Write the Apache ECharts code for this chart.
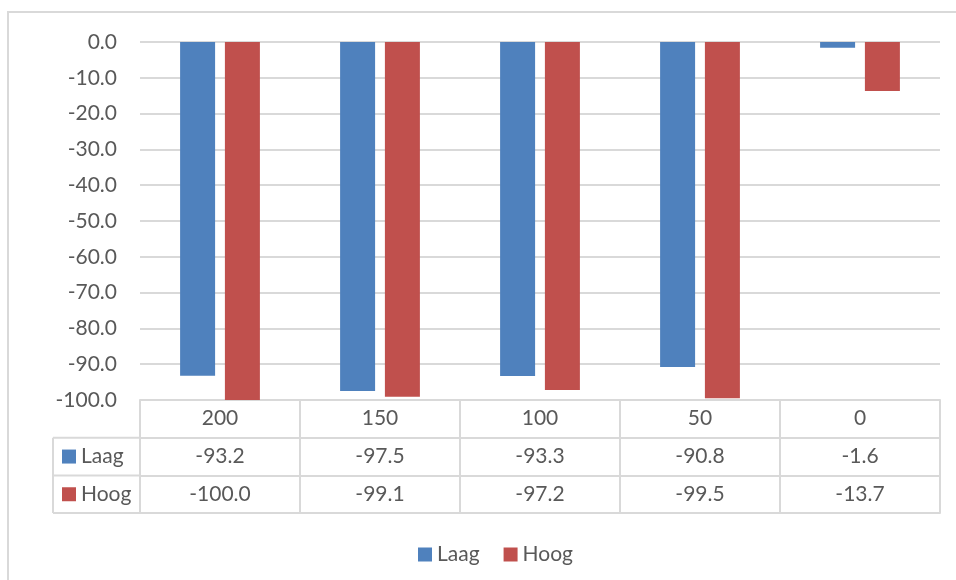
<!DOCTYPE html>
<html>
<head>
<meta charset="utf-8">
<script src="https://cdn.jsdelivr.net/npm/echarts@6/dist/echarts.min.js"></script>
<style>html,body{margin:0;padding:0;background:#fff}#c{width:956px;height:580px}</style>
</head>
<body>
<div id="c"></div>
<script>
var categories = ['200', '150', '100', '50', '0'];
var seriesNames = ['Laag', 'Hoog'];
var laag = [-93.2, -97.5, -93.3, -90.8, -1.6];
var hoog = [-100.0, -99.1, -97.2, -99.5, -13.7];
var yMin = -100, yMax = 0, yStep = 10;

var BLUE = '#4F81BD', RED = '#C0504D', TXT = '#595959', GRID = '#D9D9D9';
var FONT = 'Lato';
var FS = 21;
var rowVals = [laag, hoog];
var colors = [BLUE, RED];

var chart = echarts.init(document.getElementById('c'));
var gridLeft = 140, gridRight = 16, gridTop = 42, gridBottom = 180;
var rowH = 37.7;

function tableAxis(i) {
  return {
    type: 'category', gridIndex: 0, position: 'bottom', data: categories,
    offset: rowH * (i + 1),
    axisLine: { show: true, onZero: false, lineStyle: { color: GRID, width: 2 } },
    axisTick: { show: false },
    axisLabel: {
      show: i < 2, interval: 0, margin: 8, color: TXT, fontFamily: FONT, fontSize: FS,
      formatter: function (v, idx) { return i < 2 ? rowVals[i][idx].toFixed(1) : ''; }
    },
    splitLine: { show: false }
  };
}

var graphics = [
  { type: 'rect', shape: { x: 8, y: 12, width: 1000, height: 1000 }, style: { fill: 'none', stroke: GRID, lineWidth: 2 }, silent: true }
];
var tableTop = 580 - gridBottom;
for (var r = 1; r <= 3; r++) {
  var yy = tableTop + rowH * r;
  graphics.push({ type: 'line', shape: { x1: 53, y1: yy, x2: gridLeft, y2: yy }, style: { stroke: GRID, lineWidth: 2 } });
}
graphics.push({ type: 'line', shape: { x1: 53, y1: tableTop + rowH, x2: 53, y2: tableTop + rowH * 3 }, style: { stroke: GRID, lineWidth: 2 } });
seriesNames.forEach(function (n, i) {
  var cy = tableTop + rowH * (i + 1.5);
  graphics.push({ type: 'rect', shape: { x: 62, y: cy - 7, width: 14, height: 14 }, style: { fill: colors[i] } });
  graphics.push({ type: 'text', x: 81, y: cy, style: { text: n, fill: TXT, font: FS + 'px ' + FONT, textVerticalAlign: 'middle', verticalAlign: 'middle' } });
});

chart.setOption({
  animation: false,
  backgroundColor: '#fff',
  textStyle: { fontFamily: FONT },
  grid: { left: gridLeft, right: gridRight, top: gridTop, bottom: gridBottom, containLabel: false },
  legend: {
    data: seriesNames, left: 413, top: 539, icon: 'rect', itemWidth: 14, itemHeight: 14, itemGap: 24,
    textStyle: { color: TXT, fontFamily: FONT, fontSize: FS }
  },
  xAxis: [
    {
      type: 'category', gridIndex: 0, position: 'bottom', data: categories,
      axisLine: { show: true, onZero: false, lineStyle: { color: GRID, width: 2 } },
      axisTick: { show: true, interval: 0, length: rowH * 3, lineStyle: { color: GRID, width: 2 } },
      axisLabel: { interval: 0, margin: 8, color: TXT, fontFamily: FONT, fontSize: FS },
      splitLine: { show: false }
    },
    tableAxis(0), tableAxis(1), tableAxis(2)
  ],
  yAxis: {
    type: 'value', min: yMin, max: yMax, interval: yStep,
    axisLine: { show: false }, axisTick: { show: false },
    axisLabel: { margin: 23, color: TXT, fontFamily: FONT, fontSize: FS, formatter: function (v) { return v.toFixed(1); } },
    splitLine: { lineStyle: { color: GRID, width: 2 } }
  },
  series: [
    { name: seriesNames[0], type: 'bar', data: laag, barWidth: 35, barGap: '28%', itemStyle: { color: BLUE } },
    { name: seriesNames[1], type: 'bar', data: hoog, barWidth: 35, barGap: '28%', itemStyle: { color: RED } }
  ],
  graphic: graphics
});
</script>
</body>
</html>
